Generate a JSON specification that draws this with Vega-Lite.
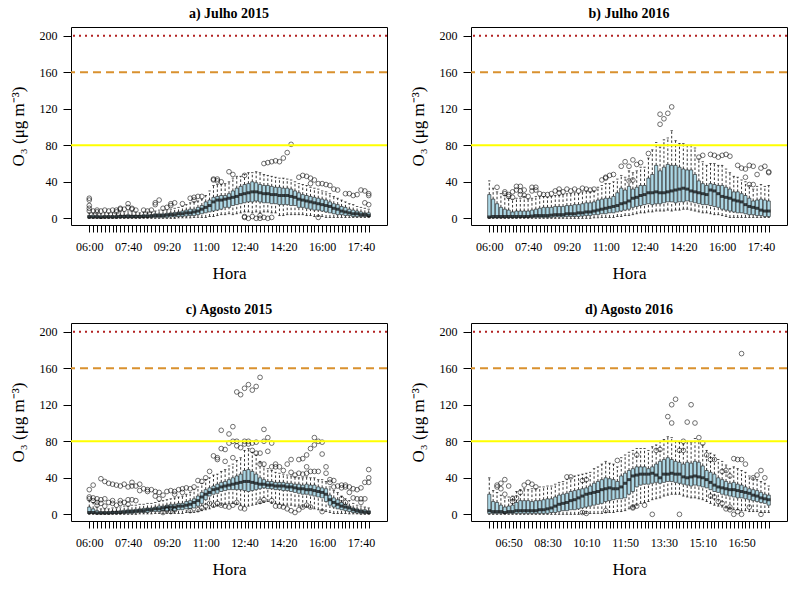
{
"$schema": "https://vega.github.io/schema/vega-lite/v6.json",
"autosize": "none",
"padding": {"left": 71, "top": 27, "right": 729, "bottom": 565},
"background": "white",
"datasets": {
"box": [
{"p":"a","i":0,"lo":0,"q1":0.5,"md":1.5,"q3":3,"hi":6},
{"p":"a","i":1,"lo":0,"q1":0.5,"md":1.5,"q3":3.5,"hi":6},
{"p":"a","i":2,"lo":0,"q1":0.5,"md":1.5,"q3":3,"hi":6},
{"p":"a","i":3,"lo":0,"q1":0.5,"md":1,"q3":3,"hi":5},
{"p":"a","i":4,"lo":0,"q1":0.5,"md":1.5,"q3":3,"hi":6},
{"p":"a","i":5,"lo":0,"q1":0.5,"md":1.5,"q3":3,"hi":6},
{"p":"a","i":6,"lo":0,"q1":0.5,"md":1.5,"q3":3,"hi":6},
{"p":"a","i":7,"lo":0,"q1":0.5,"md":1.5,"q3":3,"hi":6},
{"p":"a","i":8,"lo":0,"q1":0.5,"md":2,"q3":3.5,"hi":7},
{"p":"a","i":9,"lo":0,"q1":0.5,"md":2,"q3":3.5,"hi":7},
{"p":"a","i":10,"lo":0,"q1":0.5,"md":2,"q3":4,"hi":8},
{"p":"a","i":11,"lo":0,"q1":0.5,"md":2,"q3":3.5,"hi":7},
{"p":"a","i":12,"lo":0,"q1":0.5,"md":2,"q3":3.5,"hi":7},
{"p":"a","i":13,"lo":0,"q1":0.5,"md":2,"q3":3.5,"hi":6},
{"p":"a","i":14,"lo":0,"q1":1,"md":2,"q3":4,"hi":7},
{"p":"a","i":15,"lo":0,"q1":1,"md":2,"q3":4,"hi":7},
{"p":"a","i":16,"lo":0,"q1":1,"md":2.5,"q3":4,"hi":7},
{"p":"a","i":17,"lo":0,"q1":1,"md":3,"q3":5,"hi":8},
{"p":"a","i":18,"lo":0,"q1":1,"md":3,"q3":5,"hi":9},
{"p":"a","i":19,"lo":0,"q1":1,"md":3,"q3":5,"hi":9},
{"p":"a","i":20,"lo":0,"q1":1,"md":3.5,"q3":5.5,"hi":9},
{"p":"a","i":21,"lo":0,"q1":1.5,"md":4,"q3":6,"hi":10},
{"p":"a","i":22,"lo":0,"q1":1.5,"md":4,"q3":6.5,"hi":11},
{"p":"a","i":23,"lo":0.5,"q1":2,"md":5,"q3":7,"hi":12},
{"p":"a","i":24,"lo":0.5,"q1":2,"md":5,"q3":8,"hi":13},
{"p":"a","i":25,"lo":0.5,"q1":2.5,"md":6,"q3":9,"hi":15},
{"p":"a","i":26,"lo":0.5,"q1":3,"md":6,"q3":10,"hi":17},
{"p":"a","i":27,"lo":1,"q1":3,"md":7,"q3":10,"hi":18},
{"p":"a","i":28,"lo":1,"q1":4,"md":8,"q3":12,"hi":19},
{"p":"a","i":29,"lo":1,"q1":5,"md":10,"q3":14,"hi":21},
{"p":"a","i":30,"lo":1,"q1":6,"md":12,"q3":18,"hi":25},
{"p":"a","i":31,"lo":2,"q1":7,"md":14,"q3":20,"hi":30},
{"p":"a","i":32,"lo":2,"q1":8,"md":18,"q3":23,"hi":36},
{"p":"a","i":33,"lo":3,"q1":9,"md":20,"q3":24,"hi":37},
{"p":"a","i":34,"lo":4,"q1":10,"md":20,"q3":25,"hi":37},
{"p":"a","i":35,"lo":4,"q1":12,"md":21,"q3":25,"hi":38},
{"p":"a","i":36,"lo":5,"q1":12,"md":22,"q3":27,"hi":40},
{"p":"a","i":37,"lo":4,"q1":14,"md":23,"q3":30,"hi":44},
{"p":"a","i":38,"lo":5,"q1":15,"md":24,"q3":33,"hi":46},
{"p":"a","i":39,"lo":6,"q1":16,"md":26,"q3":35,"hi":46},
{"p":"a","i":40,"lo":7,"q1":17,"md":27,"q3":37,"hi":48},
{"p":"a","i":41,"lo":7,"q1":18,"md":28,"q3":38,"hi":50},
{"p":"a","i":42,"lo":6,"q1":18,"md":29,"q3":40,"hi":50},
{"p":"a","i":43,"lo":7,"q1":19,"md":29,"q3":39,"hi":51},
{"p":"a","i":44,"lo":6,"q1":18,"md":28,"q3":37,"hi":50},
{"p":"a","i":45,"lo":7,"q1":17,"md":27,"q3":36,"hi":48},
{"p":"a","i":46,"lo":7,"q1":17,"md":27,"q3":36,"hi":47},
{"p":"a","i":47,"lo":6,"q1":16,"md":26,"q3":35,"hi":46},
{"p":"a","i":48,"lo":6,"q1":16,"md":26,"q3":34,"hi":45},
{"p":"a","i":49,"lo":3,"q1":15,"md":25,"q3":34,"hi":44},
{"p":"a","i":50,"lo":3,"q1":15,"md":25,"q3":33,"hi":44},
{"p":"a","i":51,"lo":4,"q1":15,"md":25,"q3":33,"hi":43},
{"p":"a","i":52,"lo":4,"q1":14,"md":24,"q3":32,"hi":42},
{"p":"a","i":53,"lo":4,"q1":14,"md":23,"q3":30,"hi":40},
{"p":"a","i":54,"lo":4,"q1":12,"md":21,"q3":28,"hi":38},
{"p":"a","i":55,"lo":4,"q1":12,"md":20,"q3":26,"hi":37},
{"p":"a","i":56,"lo":3,"q1":11,"md":19,"q3":25,"hi":36},
{"p":"a","i":57,"lo":3,"q1":10,"md":18,"q3":24,"hi":34},
{"p":"a","i":58,"lo":2,"q1":9,"md":17,"q3":23,"hi":33},
{"p":"a","i":59,"lo":2,"q1":9,"md":16,"q3":22,"hi":32},
{"p":"a","i":60,"lo":2,"q1":8,"md":15,"q3":21,"hi":30},
{"p":"a","i":61,"lo":1,"q1":7,"md":14,"q3":20,"hi":29},
{"p":"a","i":62,"lo":1,"q1":6,"md":13,"q3":18,"hi":27},
{"p":"a","i":63,"lo":1,"q1":5,"md":11,"q3":16,"hi":24},
{"p":"a","i":64,"lo":1,"q1":4,"md":10,"q3":15,"hi":22},
{"p":"a","i":65,"lo":1,"q1":4,"md":8,"q3":13,"hi":20},
{"p":"a","i":66,"lo":1,"q1":3,"md":7,"q3":12,"hi":18},
{"p":"a","i":67,"lo":1,"q1":3,"md":6,"q3":10,"hi":16},
{"p":"a","i":68,"lo":1,"q1":2,"md":5,"q3":9,"hi":15},
{"p":"a","i":69,"lo":1,"q1":2,"md":5,"q3":8,"hi":13},
{"p":"a","i":70,"lo":1,"q1":2,"md":4,"q3":7,"hi":12},
{"p":"a","i":71,"lo":1,"q1":2,"md":4,"q3":6,"hi":11},
{"p":"a","i":72,"lo":1,"q1":2,"md":3,"q3":6,"hi":10},
{"p":"b","i":0,"lo":0,"q1":0.5,"md":1.5,"q3":26,"hi":41},
{"p":"b","i":1,"lo":0,"q1":0.5,"md":2,"q3":21,"hi":33},
{"p":"b","i":2,"lo":0,"q1":0.5,"md":2,"q3":16,"hi":29},
{"p":"b","i":3,"lo":0,"q1":0.5,"md":2,"q3":12,"hi":27},
{"p":"b","i":4,"lo":0,"q1":0.5,"md":2,"q3":10,"hi":25},
{"p":"b","i":5,"lo":0,"q1":0.5,"md":2,"q3":9,"hi":22},
{"p":"b","i":6,"lo":0,"q1":0.5,"md":2,"q3":7,"hi":21},
{"p":"b","i":7,"lo":0,"q1":0.5,"md":2,"q3":8,"hi":22},
{"p":"b","i":8,"lo":0,"q1":1,"md":2,"q3":8,"hi":22},
{"p":"b","i":9,"lo":0,"q1":1,"md":2,"q3":8,"hi":24},
{"p":"b","i":10,"lo":0,"q1":1,"md":2,"q3":8,"hi":21},
{"p":"b","i":11,"lo":0,"q1":1,"md":2.5,"q3":9,"hi":22},
{"p":"b","i":12,"lo":0,"q1":1,"md":3,"q3":10,"hi":24},
{"p":"b","i":13,"lo":0,"q1":1,"md":3,"q3":11,"hi":24},
{"p":"b","i":14,"lo":0,"q1":1,"md":3,"q3":12,"hi":24},
{"p":"b","i":15,"lo":0,"q1":1,"md":3,"q3":12,"hi":23},
{"p":"b","i":16,"lo":0,"q1":1,"md":3.5,"q3":12,"hi":24},
{"p":"b","i":17,"lo":0,"q1":1.5,"md":4,"q3":13,"hi":25},
{"p":"b","i":18,"lo":0,"q1":1.5,"md":4,"q3":13,"hi":25},
{"p":"b","i":19,"lo":0,"q1":1.5,"md":4,"q3":13,"hi":26},
{"p":"b","i":20,"lo":0,"q1":2,"md":5,"q3":14,"hi":27},
{"p":"b","i":21,"lo":0,"q1":2,"md":5,"q3":14,"hi":27},
{"p":"b","i":22,"lo":0,"q1":2,"md":5,"q3":15,"hi":28},
{"p":"b","i":23,"lo":0,"q1":2,"md":6,"q3":15,"hi":27},
{"p":"b","i":24,"lo":0,"q1":2.5,"md":6,"q3":16,"hi":29},
{"p":"b","i":25,"lo":0,"q1":3,"md":7,"q3":17,"hi":30},
{"p":"b","i":26,"lo":0,"q1":3,"md":7,"q3":17,"hi":29},
{"p":"b","i":27,"lo":0.5,"q1":4,"md":8,"q3":18,"hi":30},
{"p":"b","i":28,"lo":0.5,"q1":4,"md":9,"q3":20,"hi":34},
{"p":"b","i":29,"lo":1,"q1":5,"md":10,"q3":21,"hi":36},
{"p":"b","i":30,"lo":1,"q1":5,"md":11,"q3":22,"hi":38},
{"p":"b","i":31,"lo":1,"q1":6,"md":12,"q3":22,"hi":38},
{"p":"b","i":32,"lo":1,"q1":6,"md":13,"q3":24,"hi":40},
{"p":"b","i":33,"lo":2,"q1":7,"md":14,"q3":28,"hi":43},
{"p":"b","i":34,"lo":2,"q1":8,"md":16,"q3":33,"hi":47},
{"p":"b","i":35,"lo":3,"q1":9,"md":17,"q3":31,"hi":45},
{"p":"b","i":36,"lo":3,"q1":10,"md":19,"q3":35,"hi":52},
{"p":"b","i":37,"lo":4,"q1":12,"md":22,"q3":32,"hi":50},
{"p":"b","i":38,"lo":5,"q1":13,"md":23,"q3":34,"hi":52},
{"p":"b","i":39,"lo":6,"q1":14,"md":25,"q3":36,"hi":56},
{"p":"b","i":40,"lo":6,"q1":15,"md":26,"q3":36,"hi":56},
{"p":"b","i":41,"lo":7,"q1":16,"md":28,"q3":44,"hi":66},
{"p":"b","i":42,"lo":7,"q1":15,"md":28,"q3":48,"hi":75},
{"p":"b","i":43,"lo":8,"q1":16,"md":29,"q3":58,"hi":83},
{"p":"b","i":44,"lo":8,"q1":16,"md":28,"q3":52,"hi":78},
{"p":"b","i":45,"lo":8,"q1":17,"md":28,"q3":56,"hi":86},
{"p":"b","i":46,"lo":9,"q1":18,"md":29,"q3":59,"hi":88},
{"p":"b","i":47,"lo":8,"q1":18,"md":30,"q3":58,"hi":96},
{"p":"b","i":48,"lo":9,"q1":17,"md":31,"q3":58,"hi":85},
{"p":"b","i":49,"lo":9,"q1":18,"md":32,"q3":56,"hi":82},
{"p":"b","i":50,"lo":10,"q1":18,"md":33,"q3":54,"hi":82},
{"p":"b","i":51,"lo":10,"q1":19,"md":32,"q3":53,"hi":80},
{"p":"b","i":52,"lo":9,"q1":18,"md":30,"q3":53,"hi":80},
{"p":"b","i":53,"lo":8,"q1":17,"md":29,"q3":48,"hi":77},
{"p":"b","i":54,"lo":7,"q1":16,"md":28,"q3":41,"hi":65},
{"p":"b","i":55,"lo":6,"q1":15,"md":27,"q3":38,"hi":62},
{"p":"b","i":56,"lo":6,"q1":15,"md":26,"q3":36,"hi":58},
{"p":"b","i":57,"lo":5,"q1":14,"md":31,"q3":38,"hi":60},
{"p":"b","i":58,"lo":4,"q1":13,"md":30,"q3":37,"hi":60},
{"p":"b","i":59,"lo":4,"q1":12,"md":27,"q3":36,"hi":58},
{"p":"b","i":60,"lo":3,"q1":10,"md":24,"q3":36,"hi":58},
{"p":"b","i":61,"lo":2,"q1":9,"md":23,"q3":34,"hi":54},
{"p":"b","i":62,"lo":1,"q1":8,"md":22,"q3":32,"hi":50},
{"p":"b","i":63,"lo":1,"q1":7,"md":20,"q3":29,"hi":46},
{"p":"b","i":64,"lo":1,"q1":6,"md":19,"q3":29,"hi":45},
{"p":"b","i":65,"lo":1,"q1":6,"md":18,"q3":27,"hi":42},
{"p":"b","i":66,"lo":1,"q1":5,"md":15,"q3":25,"hi":40},
{"p":"b","i":67,"lo":1,"q1":4,"md":13,"q3":22,"hi":36},
{"p":"b","i":68,"lo":1,"q1":4,"md":12,"q3":19,"hi":32},
{"p":"b","i":69,"lo":1,"q1":3,"md":11,"q3":20,"hi":35},
{"p":"b","i":70,"lo":1,"q1":3,"md":9,"q3":21,"hi":37},
{"p":"b","i":71,"lo":1,"q1":2,"md":8,"q3":20,"hi":35},
{"p":"b","i":72,"lo":1,"q1":2,"md":8,"q3":19,"hi":36},
{"p":"c","i":0,"lo":0,"q1":1,"md":2,"q3":8,"hi":15},
{"p":"c","i":1,"lo":0,"q1":1,"md":2,"q3":6,"hi":13},
{"p":"c","i":2,"lo":0,"q1":0.5,"md":1.5,"q3":4,"hi":8},
{"p":"c","i":3,"lo":0,"q1":0.5,"md":1.5,"q3":3,"hi":6},
{"p":"c","i":4,"lo":0,"q1":0.5,"md":1.5,"q3":3,"hi":6},
{"p":"c","i":5,"lo":0,"q1":0.5,"md":1.5,"q3":3,"hi":6},
{"p":"c","i":6,"lo":0,"q1":0.5,"md":2,"q3":3.5,"hi":7},
{"p":"c","i":7,"lo":0,"q1":0.5,"md":2,"q3":3.5,"hi":7},
{"p":"c","i":8,"lo":0,"q1":1,"md":2,"q3":4,"hi":8},
{"p":"c","i":9,"lo":0,"q1":1,"md":2.5,"q3":4.5,"hi":9},
{"p":"c","i":10,"lo":0,"q1":1,"md":3,"q3":5,"hi":9},
{"p":"c","i":11,"lo":0,"q1":1,"md":3,"q3":5,"hi":10},
{"p":"c","i":12,"lo":0,"q1":1.5,"md":3.5,"q3":5.5,"hi":10},
{"p":"c","i":13,"lo":0.5,"q1":2,"md":4,"q3":6,"hi":11},
{"p":"c","i":14,"lo":0.5,"q1":2,"md":4,"q3":6.5,"hi":11},
{"p":"c","i":15,"lo":0.5,"q1":2,"md":5,"q3":7,"hi":12},
{"p":"c","i":16,"lo":0.5,"q1":3,"md":5,"q3":7,"hi":12},
{"p":"c","i":17,"lo":1,"q1":3,"md":6,"q3":8,"hi":13},
{"p":"c","i":18,"lo":1,"q1":3,"md":6,"q3":9,"hi":14},
{"p":"c","i":19,"lo":1,"q1":4,"md":7,"q3":9,"hi":15},
{"p":"c","i":20,"lo":1,"q1":4,"md":8,"q3":10,"hi":16},
{"p":"c","i":21,"lo":1,"q1":4,"md":8,"q3":11,"hi":17},
{"p":"c","i":22,"lo":1,"q1":4,"md":8,"q3":11,"hi":18},
{"p":"c","i":23,"lo":1,"q1":5,"md":9,"q3":12,"hi":19},
{"p":"c","i":24,"lo":1,"q1":5,"md":9,"q3":12,"hi":20},
{"p":"c","i":25,"lo":2,"q1":6,"md":10,"q3":14,"hi":22},
{"p":"c","i":26,"lo":2,"q1":6,"md":11,"q3":15,"hi":24},
{"p":"c","i":27,"lo":2,"q1":7,"md":13,"q3":17,"hi":27},
{"p":"c","i":28,"lo":3,"q1":9,"md":15,"q3":20,"hi":30},
{"p":"c","i":29,"lo":4,"q1":12,"md":19,"q3":24,"hi":34},
{"p":"c","i":30,"lo":5,"q1":16,"md":22,"q3":27,"hi":38},
{"p":"c","i":31,"lo":6,"q1":20,"md":24,"q3":29,"hi":40},
{"p":"c","i":32,"lo":8,"q1":22,"md":27,"q3":31,"hi":43},
{"p":"c","i":33,"lo":9,"q1":23,"md":28,"q3":33,"hi":44},
{"p":"c","i":34,"lo":10,"q1":25,"md":30,"q3":35,"hi":47},
{"p":"c","i":35,"lo":11,"q1":26,"md":31,"q3":36,"hi":49},
{"p":"c","i":36,"lo":12,"q1":27,"md":32,"q3":38,"hi":53},
{"p":"c","i":37,"lo":12,"q1":27,"md":33,"q3":40,"hi":55},
{"p":"c","i":38,"lo":11,"q1":27,"md":34,"q3":42,"hi":59},
{"p":"c","i":39,"lo":10,"q1":27,"md":35,"q3":44,"hi":62},
{"p":"c","i":40,"lo":9,"q1":26,"md":36,"q3":48,"hi":70},
{"p":"c","i":41,"lo":9,"q1":25,"md":36,"q3":49,"hi":72},
{"p":"c","i":42,"lo":10,"q1":26,"md":35,"q3":47,"hi":68},
{"p":"c","i":43,"lo":11,"q1":27,"md":34,"q3":44,"hi":65},
{"p":"c","i":44,"lo":12,"q1":28,"md":33,"q3":40,"hi":58},
{"p":"c","i":45,"lo":13,"q1":29,"md":33,"q3":38,"hi":52},
{"p":"c","i":46,"lo":14,"q1":28,"md":32,"q3":36,"hi":50},
{"p":"c","i":47,"lo":12,"q1":28,"md":32,"q3":36,"hi":48},
{"p":"c","i":48,"lo":12,"q1":27,"md":31,"q3":35,"hi":46},
{"p":"c","i":49,"lo":11,"q1":27,"md":31,"q3":35,"hi":45},
{"p":"c","i":50,"lo":10,"q1":26,"md":31,"q3":35,"hi":44},
{"p":"c","i":51,"lo":10,"q1":26,"md":30,"q3":34,"hi":43},
{"p":"c","i":52,"lo":10,"q1":25,"md":30,"q3":34,"hi":42},
{"p":"c","i":53,"lo":9,"q1":24,"md":29,"q3":33,"hi":41},
{"p":"c","i":54,"lo":9,"q1":23,"md":28,"q3":33,"hi":40},
{"p":"c","i":55,"lo":8,"q1":22,"md":28,"q3":32,"hi":40},
{"p":"c","i":56,"lo":8,"q1":22,"md":27,"q3":33,"hi":41},
{"p":"c","i":57,"lo":7,"q1":21,"md":27,"q3":32,"hi":40},
{"p":"c","i":58,"lo":6,"q1":20,"md":26,"q3":32,"hi":40},
{"p":"c","i":59,"lo":5,"q1":19,"md":25,"q3":30,"hi":38},
{"p":"c","i":60,"lo":4,"q1":18,"md":24,"q3":29,"hi":38},
{"p":"c","i":61,"lo":3,"q1":14,"md":22,"q3":28,"hi":36},
{"p":"c","i":62,"lo":2,"q1":10,"md":16,"q3":21,"hi":30},
{"p":"c","i":63,"lo":1,"q1":8,"md":13,"q3":18,"hi":26},
{"p":"c","i":64,"lo":1,"q1":6,"md":11,"q3":16,"hi":24},
{"p":"c","i":65,"lo":1,"q1":5,"md":9,"q3":13,"hi":20},
{"p":"c","i":66,"lo":1,"q1":4,"md":8,"q3":11,"hi":17},
{"p":"c","i":67,"lo":0.5,"q1":3,"md":7,"q3":9,"hi":15},
{"p":"c","i":68,"lo":0.5,"q1":2,"md":5,"q3":7,"hi":12},
{"p":"c","i":69,"lo":0.5,"q1":1.5,"md":4,"q3":6,"hi":10},
{"p":"c","i":70,"lo":0,"q1":1,"md":3,"q3":5,"hi":9},
{"p":"c","i":71,"lo":0,"q1":1,"md":2.5,"q3":5,"hi":8},
{"p":"c","i":72,"lo":0,"q1":1,"md":2,"q3":4,"hi":7},
{"p":"d","i":0,"lo":0,"q1":1,"md":4,"q3":22,"hi":40},
{"p":"d","i":1,"lo":0,"q1":1,"md":3,"q3":14,"hi":26},
{"p":"d","i":2,"lo":0,"q1":1,"md":3,"q3":13,"hi":24},
{"p":"d","i":3,"lo":0,"q1":1,"md":3,"q3":10,"hi":21},
{"p":"d","i":4,"lo":0,"q1":1,"md":2,"q3":8,"hi":18},
{"p":"d","i":5,"lo":0,"q1":1,"md":3,"q3":9,"hi":19},
{"p":"d","i":6,"lo":0,"q1":1,"md":3,"q3":10,"hi":20},
{"p":"d","i":7,"lo":0,"q1":1,"md":4,"q3":13,"hi":25},
{"p":"d","i":8,"lo":0,"q1":1,"md":4,"q3":15,"hi":27},
{"p":"d","i":9,"lo":0,"q1":1,"md":4,"q3":15,"hi":28},
{"p":"d","i":10,"lo":0,"q1":1,"md":4,"q3":15,"hi":27},
{"p":"d","i":11,"lo":0,"q1":1,"md":4,"q3":14,"hi":28},
{"p":"d","i":12,"lo":0,"q1":1,"md":4,"q3":15,"hi":28},
{"p":"d","i":13,"lo":0,"q1":1,"md":5,"q3":15,"hi":30},
{"p":"d","i":14,"lo":0,"q1":1,"md":5,"q3":16,"hi":30},
{"p":"d","i":15,"lo":0,"q1":1,"md":6,"q3":17,"hi":31},
{"p":"d","i":16,"lo":0,"q1":2,"md":7,"q3":17,"hi":31},
{"p":"d","i":17,"lo":0,"q1":2,"md":9,"q3":19,"hi":33},
{"p":"d","i":18,"lo":0,"q1":3,"md":11,"q3":21,"hi":35},
{"p":"d","i":19,"lo":0,"q1":4,"md":12,"q3":22,"hi":36},
{"p":"d","i":20,"lo":0,"q1":4,"md":13,"q3":23,"hi":38},
{"p":"d","i":21,"lo":0,"q1":5,"md":15,"q3":25,"hi":40},
{"p":"d","i":22,"lo":0,"q1":5,"md":16,"q3":26,"hi":42},
{"p":"d","i":23,"lo":0,"q1":6,"md":18,"q3":27,"hi":43},
{"p":"d","i":24,"lo":1,"q1":7,"md":20,"q3":28,"hi":44},
{"p":"d","i":25,"lo":1,"q1":8,"md":22,"q3":29,"hi":45},
{"p":"d","i":26,"lo":1,"q1":9,"md":23,"q3":31,"hi":46},
{"p":"d","i":27,"lo":1,"q1":10,"md":24,"q3":34,"hi":50},
{"p":"d","i":28,"lo":1,"q1":11,"md":25,"q3":36,"hi":52},
{"p":"d","i":29,"lo":1,"q1":12,"md":27,"q3":38,"hi":55},
{"p":"d","i":30,"lo":2,"q1":14,"md":28,"q3":40,"hi":58},
{"p":"d","i":31,"lo":2,"q1":15,"md":29,"q3":39,"hi":56},
{"p":"d","i":32,"lo":2,"q1":16,"md":28,"q3":38,"hi":55},
{"p":"d","i":33,"lo":3,"q1":17,"md":28,"q3":36,"hi":52},
{"p":"d","i":34,"lo":3,"q1":17,"md":30,"q3":42,"hi":62},
{"p":"d","i":35,"lo":4,"q1":18,"md":34,"q3":45,"hi":65},
{"p":"d","i":36,"lo":6,"q1":22,"md":38,"q3":48,"hi":68},
{"p":"d","i":37,"lo":8,"q1":25,"md":42,"q3":50,"hi":70},
{"p":"d","i":38,"lo":10,"q1":30,"md":43,"q3":52,"hi":72},
{"p":"d","i":39,"lo":12,"q1":32,"md":44,"q3":52,"hi":72},
{"p":"d","i":40,"lo":13,"q1":33,"md":44,"q3":52,"hi":72},
{"p":"d","i":41,"lo":14,"q1":33,"md":44,"q3":50,"hi":70},
{"p":"d","i":42,"lo":16,"q1":34,"md":45,"q3":52,"hi":74},
{"p":"d","i":43,"lo":17,"q1":35,"md":43,"q3":55,"hi":76},
{"p":"d","i":44,"lo":18,"q1":34,"md":40,"q3":58,"hi":80},
{"p":"d","i":45,"lo":20,"q1":35,"md":44,"q3":60,"hi":82},
{"p":"d","i":46,"lo":21,"q1":36,"md":44,"q3":62,"hi":85},
{"p":"d","i":47,"lo":22,"q1":36,"md":45,"q3":60,"hi":84},
{"p":"d","i":48,"lo":22,"q1":35,"md":44,"q3":58,"hi":80},
{"p":"d","i":49,"lo":22,"q1":34,"md":44,"q3":57,"hi":79},
{"p":"d","i":50,"lo":20,"q1":33,"md":41,"q3":55,"hi":77},
{"p":"d","i":51,"lo":19,"q1":32,"md":40,"q3":57,"hi":80},
{"p":"d","i":52,"lo":18,"q1":31,"md":41,"q3":56,"hi":79},
{"p":"d","i":53,"lo":18,"q1":32,"md":42,"q3":58,"hi":83},
{"p":"d","i":54,"lo":17,"q1":31,"md":41,"q3":57,"hi":80},
{"p":"d","i":55,"lo":16,"q1":30,"md":40,"q3":53,"hi":76},
{"p":"d","i":56,"lo":14,"q1":29,"md":38,"q3":48,"hi":70},
{"p":"d","i":57,"lo":12,"q1":27,"md":35,"q3":46,"hi":67},
{"p":"d","i":58,"lo":10,"q1":25,"md":32,"q3":44,"hi":65},
{"p":"d","i":59,"lo":9,"q1":24,"md":30,"q3":40,"hi":60},
{"p":"d","i":60,"lo":8,"q1":22,"md":29,"q3":38,"hi":58},
{"p":"d","i":61,"lo":7,"q1":21,"md":28,"q3":36,"hi":54},
{"p":"d","i":62,"lo":6,"q1":20,"md":27,"q3":34,"hi":50},
{"p":"d","i":63,"lo":5,"q1":19,"md":27,"q3":35,"hi":52},
{"p":"d","i":64,"lo":5,"q1":18,"md":26,"q3":33,"hi":50},
{"p":"d","i":65,"lo":4,"q1":18,"md":25,"q3":32,"hi":48},
{"p":"d","i":66,"lo":4,"q1":17,"md":24,"q3":30,"hi":46},
{"p":"d","i":67,"lo":3,"q1":16,"md":23,"q3":28,"hi":42},
{"p":"d","i":68,"lo":3,"q1":15,"md":21,"q3":27,"hi":40},
{"p":"d","i":69,"lo":3,"q1":14,"md":20,"q3":26,"hi":38},
{"p":"d","i":70,"lo":2,"q1":13,"md":18,"q3":24,"hi":36},
{"p":"d","i":71,"lo":2,"q1":12,"md":17,"q3":22,"hi":34},
{"p":"d","i":72,"lo":2,"q1":10,"md":16,"q3":21,"hi":31}
],
"out": [
{"p":"a","i":0,"v":8},{"p":"a","i":0,"v":11},{"p":"a","i":0,"v":14},{"p":"a","i":0,"v":20},{"p":"a","i":0,"v":22},
{"p":"a","i":1,"v":8},{"p":"a","i":2,"v":7},{"p":"a","i":2,"v":9},{"p":"a","i":3,"v":8},{"p":"a","i":4,"v":9},
{"p":"a","i":5,"v":8},{"p":"a","i":6,"v":9},{"p":"a","i":7,"v":7},{"p":"a","i":7,"v":9},{"p":"a","i":8,"v":10},
{"p":"a","i":8,"v":11},{"p":"a","i":9,"v":10},{"p":"a","i":10,"v":12},{"p":"a","i":10,"v":16},{"p":"a","i":11,"v":10},
{"p":"a","i":11,"v":11},{"p":"a","i":12,"v":9},{"p":"a","i":14,"v":9},{"p":"a","i":15,"v":8},{"p":"a","i":16,"v":9},
{"p":"a","i":17,"v":15},{"p":"a","i":17,"v":17},{"p":"a","i":18,"v":20},{"p":"a","i":19,"v":11},{"p":"a","i":20,"v":12},
{"p":"a","i":21,"v":14},{"p":"a","i":21,"v":16},{"p":"a","i":22,"v":17},{"p":"a","i":24,"v":16},{"p":"a","i":26,"v":22},
{"p":"a","i":27,"v":20},{"p":"a","i":27,"v":23},{"p":"a","i":28,"v":24},{"p":"a","i":29,"v":24},{"p":"a","i":32,"v":43},
{"p":"a","i":32,"v":42},{"p":"a","i":33,"v":43},{"p":"a","i":33,"v":41},{"p":"a","i":34,"v":40},{"p":"a","i":36,"v":51},
{"p":"a","i":37,"v":48},{"p":"a","i":40,"v":47},{"p":"a","i":40,"v":2},{"p":"a","i":40,"v":1},{"p":"a","i":41,"v":0},
{"p":"a","i":42,"v":2},{"p":"a","i":43,"v":0},{"p":"a","i":44,"v":0},{"p":"a","i":44,"v":3},{"p":"a","i":45,"v":60},
{"p":"a","i":45,"v":1},{"p":"a","i":46,"v":61},{"p":"a","i":46,"v":0},{"p":"a","i":47,"v":62},{"p":"a","i":47,"v":1},
{"p":"a","i":48,"v":63},{"p":"a","i":49,"v":62},{"p":"a","i":50,"v":66},{"p":"a","i":51,"v":72},{"p":"a","i":52,"v":81},
{"p":"a","i":54,"v":45},{"p":"a","i":55,"v":47},{"p":"a","i":56,"v":46},{"p":"a","i":57,"v":44},{"p":"a","i":57,"v":38},
{"p":"a","i":58,"v":42},{"p":"a","i":59,"v":38},{"p":"a","i":59,"v":1},{"p":"a","i":60,"v":38},{"p":"a","i":61,"v":37},
{"p":"a","i":62,"v":36},{"p":"a","i":63,"v":32},{"p":"a","i":64,"v":31},{"p":"a","i":66,"v":27},{"p":"a","i":67,"v":27},
{"p":"a","i":68,"v":25},{"p":"a","i":69,"v":26},{"p":"a","i":70,"v":31},{"p":"a","i":71,"v":30},{"p":"a","i":71,"v":17},
{"p":"a","i":72,"v":27},{"p":"a","i":72,"v":25},{"p":"a","i":72,"v":15},
{"p":"b","i":2,"v":34},{"p":"b","i":4,"v":29},{"p":"b","i":4,"v":27},{"p":"b","i":5,"v":26},{"p":"b","i":5,"v":24},
{"p":"b","i":6,"v":29},{"p":"b","i":6,"v":23},{"p":"b","i":7,"v":35},{"p":"b","i":7,"v":31},{"p":"b","i":8,"v":35},
{"p":"b","i":8,"v":30},{"p":"b","i":8,"v":26},{"p":"b","i":9,"v":31},{"p":"b","i":9,"v":25},{"p":"b","i":10,"v":24},
{"p":"b","i":11,"v":34},{"p":"b","i":11,"v":30},{"p":"b","i":12,"v":34},{"p":"b","i":12,"v":31},{"p":"b","i":13,"v":27},
{"p":"b","i":14,"v":26},{"p":"b","i":15,"v":26},{"p":"b","i":16,"v":27},{"p":"b","i":17,"v":30},{"p":"b","i":18,"v":32},
{"p":"b","i":18,"v":28},{"p":"b","i":19,"v":29},{"p":"b","i":20,"v":32},{"p":"b","i":21,"v":30},{"p":"b","i":22,"v":32},
{"p":"b","i":23,"v":30},{"p":"b","i":24,"v":33},{"p":"b","i":25,"v":32},{"p":"b","i":26,"v":31},{"p":"b","i":27,"v":32},
{"p":"b","i":29,"v":42},{"p":"b","i":30,"v":45},{"p":"b","i":30,"v":44},{"p":"b","i":31,"v":47},{"p":"b","i":32,"v":48},
{"p":"b","i":34,"v":57},{"p":"b","i":35,"v":62},{"p":"b","i":36,"v":57},{"p":"b","i":36,"v":41},{"p":"b","i":37,"v":64},
{"p":"b","i":37,"v":42},{"p":"b","i":38,"v":59},{"p":"b","i":39,"v":61},{"p":"b","i":41,"v":71},{"p":"b","i":44,"v":103},
{"p":"b","i":44,"v":114},{"p":"b","i":45,"v":109},{"p":"b","i":46,"v":115},{"p":"b","i":47,"v":122},{"p":"b","i":54,"v":67},
{"p":"b","i":55,"v":69},{"p":"b","i":57,"v":70},{"p":"b","i":58,"v":69},{"p":"b","i":59,"v":67},{"p":"b","i":60,"v":69},
{"p":"b","i":61,"v":70},{"p":"b","i":62,"v":68},{"p":"b","i":64,"v":58},{"p":"b","i":65,"v":55},{"p":"b","i":66,"v":54},
{"p":"b","i":66,"v":45},{"p":"b","i":67,"v":58},{"p":"b","i":67,"v":37},{"p":"b","i":68,"v":57},{"p":"b","i":68,"v":37},
{"p":"b","i":69,"v":48},{"p":"b","i":70,"v":55},{"p":"b","i":71,"v":57},{"p":"b","i":72,"v":51},{"p":"b","i":72,"v":50},
{"p":"c","i":0,"v":19},{"p":"c","i":0,"v":27},{"p":"c","i":0,"v":17},{"p":"c","i":1,"v":32},{"p":"c","i":1,"v":18},
{"p":"c","i":1,"v":15},{"p":"c","i":2,"v":17},{"p":"c","i":2,"v":13},{"p":"c","i":2,"v":10},{"p":"c","i":3,"v":39},
{"p":"c","i":3,"v":16},{"p":"c","i":3,"v":12},{"p":"c","i":4,"v":36},{"p":"c","i":4,"v":17},{"p":"c","i":4,"v":9},
{"p":"c","i":5,"v":34},{"p":"c","i":5,"v":13},{"p":"c","i":6,"v":33},{"p":"c","i":6,"v":12},{"p":"c","i":6,"v":15},
{"p":"c","i":7,"v":32},{"p":"c","i":7,"v":10},{"p":"c","i":8,"v":31},{"p":"c","i":8,"v":15},{"p":"c","i":8,"v":12},
{"p":"c","i":9,"v":33},{"p":"c","i":9,"v":13},{"p":"c","i":10,"v":30},{"p":"c","i":10,"v":16},{"p":"c","i":10,"v":11},
{"p":"c","i":11,"v":35},{"p":"c","i":11,"v":31},{"p":"c","i":11,"v":16},{"p":"c","i":12,"v":31},{"p":"c","i":12,"v":15},
{"p":"c","i":13,"v":33},{"p":"c","i":13,"v":26},{"p":"c","i":14,"v":28},{"p":"c","i":15,"v":27},{"p":"c","i":15,"v":25},
{"p":"c","i":16,"v":27},{"p":"c","i":17,"v":25},{"p":"c","i":17,"v":20},{"p":"c","i":18,"v":24},{"p":"c","i":18,"v":17},
{"p":"c","i":19,"v":21},{"p":"c","i":19,"v":2},{"p":"c","i":20,"v":25},{"p":"c","i":20,"v":5},{"p":"c","i":21,"v":26},
{"p":"c","i":21,"v":3},{"p":"c","i":22,"v":25},{"p":"c","i":22,"v":5},{"p":"c","i":22,"v":22},{"p":"c","i":23,"v":27},
{"p":"c","i":24,"v":28},{"p":"c","i":24,"v":24},{"p":"c","i":25,"v":29},{"p":"c","i":26,"v":28},{"p":"c","i":26,"v":4},
{"p":"c","i":27,"v":30},{"p":"c","i":28,"v":37},{"p":"c","i":28,"v":5},{"p":"c","i":29,"v":36},{"p":"c","i":29,"v":7},
{"p":"c","i":30,"v":40},{"p":"c","i":30,"v":9},{"p":"c","i":31,"v":47},{"p":"c","i":31,"v":12},{"p":"c","i":32,"v":64},
{"p":"c","i":32,"v":10},{"p":"c","i":33,"v":62},{"p":"c","i":33,"v":60},{"p":"c","i":33,"v":12},{"p":"c","i":34,"v":72},
{"p":"c","i":34,"v":92},{"p":"c","i":34,"v":10},{"p":"c","i":35,"v":71},{"p":"c","i":35,"v":58},{"p":"c","i":35,"v":9},
{"p":"c","i":36,"v":88},{"p":"c","i":36,"v":78},{"p":"c","i":36,"v":8},{"p":"c","i":37,"v":96},{"p":"c","i":37,"v":80},
{"p":"c","i":37,"v":62},{"p":"c","i":37,"v":10},{"p":"c","i":38,"v":134},{"p":"c","i":38,"v":80},{"p":"c","i":38,"v":75},
{"p":"c","i":38,"v":13},{"p":"c","i":39,"v":131},{"p":"c","i":39,"v":73},{"p":"c","i":39,"v":7},{"p":"c","i":40,"v":138},
{"p":"c","i":40,"v":80},{"p":"c","i":40,"v":77},{"p":"c","i":40,"v":6},{"p":"c","i":41,"v":142},{"p":"c","i":41,"v":80},
{"p":"c","i":41,"v":77},{"p":"c","i":42,"v":136},{"p":"c","i":42,"v":78},{"p":"c","i":42,"v":70},{"p":"c","i":43,"v":140},
{"p":"c","i":43,"v":79},{"p":"c","i":43,"v":67},{"p":"c","i":44,"v":150},{"p":"c","i":44,"v":67},{"p":"c","i":44,"v":55},
{"p":"c","i":44,"v":14},{"p":"c","i":45,"v":93},{"p":"c","i":45,"v":80},{"p":"c","i":45,"v":55},{"p":"c","i":45,"v":16},
{"p":"c","i":46,"v":84},{"p":"c","i":46,"v":69},{"p":"c","i":47,"v":78},{"p":"c","i":47,"v":52},{"p":"c","i":47,"v":15},
{"p":"c","i":48,"v":55},{"p":"c","i":48,"v":52},{"p":"c","i":48,"v":9},{"p":"c","i":49,"v":52},{"p":"c","i":49,"v":9},
{"p":"c","i":50,"v":48},{"p":"c","i":50,"v":8},{"p":"c","i":51,"v":55},{"p":"c","i":51,"v":6},{"p":"c","i":52,"v":60},
{"p":"c","i":52,"v":46},{"p":"c","i":52,"v":4},{"p":"c","i":53,"v":43},{"p":"c","i":53,"v":2},{"p":"c","i":54,"v":60},
{"p":"c","i":54,"v":45},{"p":"c","i":54,"v":5},{"p":"c","i":55,"v":61},{"p":"c","i":55,"v":44},{"p":"c","i":55,"v":8},
{"p":"c","i":56,"v":65},{"p":"c","i":56,"v":52},{"p":"c","i":56,"v":45},{"p":"c","i":56,"v":10},{"p":"c","i":57,"v":72},
{"p":"c","i":57,"v":47},{"p":"c","i":57,"v":8},{"p":"c","i":58,"v":84},{"p":"c","i":58,"v":76},{"p":"c","i":58,"v":47},
{"p":"c","i":59,"v":80},{"p":"c","i":59,"v":47},{"p":"c","i":60,"v":79},{"p":"c","i":60,"v":66},{"p":"c","i":60,"v":3},
{"p":"c","i":61,"v":52},{"p":"c","i":61,"v":45},{"p":"c","i":62,"v":38},{"p":"c","i":62,"v":35},{"p":"c","i":63,"v":37},
{"p":"c","i":63,"v":30},{"p":"c","i":64,"v":31},{"p":"c","i":65,"v":32},{"p":"c","i":65,"v":29},{"p":"c","i":65,"v":17},
{"p":"c","i":66,"v":32},{"p":"c","i":66,"v":30},{"p":"c","i":66,"v":13},{"p":"c","i":67,"v":30},{"p":"c","i":67,"v":24},
{"p":"c","i":68,"v":28},{"p":"c","i":68,"v":18},{"p":"c","i":69,"v":27},{"p":"c","i":69,"v":17},{"p":"c","i":70,"v":29},
{"p":"c","i":70,"v":17},{"p":"c","i":70,"v":13},{"p":"c","i":71,"v":35},{"p":"c","i":71,"v":17},{"p":"c","i":72,"v":49},
{"p":"c","i":72,"v":40},{"p":"c","i":72,"v":35},
{"p":"d","i":2,"v":32},{"p":"d","i":2,"v":30},{"p":"d","i":3,"v":34},{"p":"d","i":3,"v":28},{"p":"d","i":4,"v":38},
{"p":"d","i":4,"v":22},{"p":"d","i":5,"v":31},{"p":"d","i":6,"v":17},{"p":"d","i":6,"v":14},{"p":"d","i":7,"v":18},
{"p":"d","i":8,"v":24},{"p":"d","i":9,"v":32},{"p":"d","i":10,"v":35},{"p":"d","i":11,"v":33},{"p":"d","i":12,"v":30},
{"p":"d","i":20,"v":41},{"p":"d","i":21,"v":41},{"p":"d","i":24,"v":37},{"p":"d","i":24,"v":2},{"p":"d","i":25,"v":38},
{"p":"d","i":25,"v":1},{"p":"d","i":30,"v":4},{"p":"d","i":33,"v":59},{"p":"d","i":37,"v":8},{"p":"d","i":37,"v":7},
{"p":"d","i":38,"v":65},{"p":"d","i":38,"v":9},{"p":"d","i":40,"v":10},{"p":"d","i":42,"v":0},{"p":"d","i":43,"v":70},
{"p":"d","i":44,"v":71},{"p":"d","i":46,"v":107},{"p":"d","i":47,"v":100},{"p":"d","i":47,"v":120},{"p":"d","i":48,"v":126},
{"p":"d","i":49,"v":0},{"p":"d","i":49,"v":70},{"p":"d","i":50,"v":80},{"p":"d","i":50,"v":70},{"p":"d","i":51,"v":101},
{"p":"d","i":52,"v":120},{"p":"d","i":53,"v":100},{"p":"d","i":54,"v":84},{"p":"d","i":55,"v":78},{"p":"d","i":56,"v":65},
{"p":"d","i":57,"v":60},{"p":"d","i":57,"v":20},{"p":"d","i":58,"v":60},{"p":"d","i":58,"v":19},{"p":"d","i":59,"v":14},
{"p":"d","i":60,"v":12},{"p":"d","i":60,"v":47},{"p":"d","i":61,"v":48},{"p":"d","i":61,"v":6},{"p":"d","i":62,"v":42},
{"p":"d","i":62,"v":8},{"p":"d","i":62,"v":5},{"p":"d","i":63,"v":61},{"p":"d","i":63,"v":0},{"p":"d","i":64,"v":60},
{"p":"d","i":64,"v":3},{"p":"d","i":65,"v":60},{"p":"d","i":65,"v":0},{"p":"d","i":65,"v":176},{"p":"d","i":66,"v":55},
{"p":"d","i":67,"v":8},{"p":"d","i":68,"v":40},{"p":"d","i":69,"v":43},{"p":"d","i":70,"v":48},{"p":"d","i":70,"v":0},
{"p":"d","i":71,"v":40}
]
},
"columns": 2,
"spacing": {"row": 98, "column": 84},
"bounds": "flush",
"concat": [
{
"width": 316, "height": 198,
"title": {"text": "a) Julho 2015"},
"layer": [
{
"encoding": {"x": {"field": "i", "type": "quantitative", "scale": {"domain": [-3.42, 75.42], "nice": false, "zero": false}, "axis": {"title": "Hora", "tickCount": 200, "values": [0,1,2,3,4,5,6,7,8,9,10,11,12,13,14,15,16,17,18,19,20,21,22,23,24,25,26,27,28,29,30,31,32,33,34,35,36,37,38,39,40,41,42,43,44,45,46,47,48,49,50,51,52,53,54,55,56,57,58,59,60,61,62,63,64,65,66,67,68,69,70,71,72], "labelOverlap": false, "labelExpr": "datum.value % 10 === 0 ? pad(floor(datum.value/6)+6, 2, '0', 'left') + ':' + pad((datum.value%6)*10, 2, '0', 'left') : ''"}}},
"layer": [
{"data": {"name": "box"}, "transform": [{"filter": "datum.p === 'a'"}],
"layer": [
{"mark": {"type": "rule", "strokeDash": [2.5, 2], "strokeWidth": 0.8, "color": "black"}, "encoding": {"y": {"field": "lo", "type": "quantitative", "scale": {"domain": [-7.3, 209.5], "nice": false, "zero": false}, "axis": {"title": "O₃ (μg m⁻³)", "tickCount": 50, "values": [0,40,80,120,160,200], "labelOverlap": false}}, "y2": {"field": "q1"}}},
{"mark": {"type": "rule", "strokeDash": [2.5, 2], "strokeWidth": 0.8, "color": "black"}, "encoding": {"y": {"field": "q3", "type": "quantitative"}, "y2": {"field": "hi"}}},
{"mark": {"type": "tick", "orient": "horizontal", "size": 2.4, "thickness": 0.9, "color": "black"}, "encoding": {"y": {"field": "lo", "type": "quantitative"}}},
{"mark": {"type": "tick", "orient": "horizontal", "size": 2.4, "thickness": 0.9, "color": "black"}, "encoding": {"y": {"field": "hi", "type": "quantitative"}}},
{"mark": {"type": "bar", "orient": "vertical", "size": 3.2, "fill": "#ADD8E6", "stroke": "black", "strokeWidth": 0.55}, "encoding": {"y": {"field": "q1", "type": "quantitative"}, "y2": {"field": "q3"}}},
{"mark": {"type": "tick", "orient": "horizontal", "size": 3.6, "thickness": 3, "color": "black"}, "encoding": {"y": {"field": "md", "type": "quantitative"}}}
]},
{"data": {"name": "out"}, "transform": [{"filter": "datum.p === 'a'"}], "mark": {"type": "point", "shape": "circle", "filled": false, "size": 22, "stroke": "black", "strokeWidth": 0.8}, "encoding": {"y": {"field": "v", "type": "quantitative"}}}
]
},
{"data": {"values": [{}]}, "mark": {"type": "rule", "color": "#FFFF00", "strokeWidth": 2}, "encoding": {"y": {"datum": 80, "type": "quantitative"}}},
{"data": {"values": [{}]}, "mark": {"type": "rule", "color": "#D9912E", "strokeWidth": 2, "strokeDash": [8, 5]}, "encoding": {"y": {"datum": 160, "type": "quantitative"}}},
{"data": {"values": [{}]}, "mark": {"type": "rule", "color": "#B22222", "strokeWidth": 2, "strokeDash": [2, 4]}, "encoding": {"y": {"datum": 200, "type": "quantitative"}}}
]
},
{
"width": 316, "height": 198,
"title": {"text": "b) Julho 2016"},
"layer": [
{
"encoding": {"x": {"field": "i", "type": "quantitative", "scale": {"domain": [-3.42, 75.42], "nice": false, "zero": false}, "axis": {"title": "Hora", "tickCount": 200, "values": [0,1,2,3,4,5,6,7,8,9,10,11,12,13,14,15,16,17,18,19,20,21,22,23,24,25,26,27,28,29,30,31,32,33,34,35,36,37,38,39,40,41,42,43,44,45,46,47,48,49,50,51,52,53,54,55,56,57,58,59,60,61,62,63,64,65,66,67,68,69,70,71,72], "labelOverlap": false, "labelExpr": "datum.value % 10 === 0 ? pad(floor(datum.value/6)+6, 2, '0', 'left') + ':' + pad((datum.value%6)*10, 2, '0', 'left') : ''"}}},
"layer": [
{"data": {"name": "box"}, "transform": [{"filter": "datum.p === 'b'"}],
"layer": [
{"mark": {"type": "rule", "strokeDash": [2.5, 2], "strokeWidth": 0.8, "color": "black"}, "encoding": {"y": {"field": "lo", "type": "quantitative", "scale": {"domain": [-7.3, 209.5], "nice": false, "zero": false}, "axis": {"title": "O₃ (μg m⁻³)", "tickCount": 50, "values": [0,40,80,120,160,200], "labelOverlap": false}}, "y2": {"field": "q1"}}},
{"mark": {"type": "rule", "strokeDash": [2.5, 2], "strokeWidth": 0.8, "color": "black"}, "encoding": {"y": {"field": "q3", "type": "quantitative"}, "y2": {"field": "hi"}}},
{"mark": {"type": "tick", "orient": "horizontal", "size": 2.4, "thickness": 0.9, "color": "black"}, "encoding": {"y": {"field": "lo", "type": "quantitative"}}},
{"mark": {"type": "tick", "orient": "horizontal", "size": 2.4, "thickness": 0.9, "color": "black"}, "encoding": {"y": {"field": "hi", "type": "quantitative"}}},
{"mark": {"type": "bar", "orient": "vertical", "size": 3.2, "fill": "#ADD8E6", "stroke": "black", "strokeWidth": 0.55}, "encoding": {"y": {"field": "q1", "type": "quantitative"}, "y2": {"field": "q3"}}},
{"mark": {"type": "tick", "orient": "horizontal", "size": 3.6, "thickness": 3, "color": "black"}, "encoding": {"y": {"field": "md", "type": "quantitative"}}}
]},
{"data": {"name": "out"}, "transform": [{"filter": "datum.p === 'b'"}], "mark": {"type": "point", "shape": "circle", "filled": false, "size": 22, "stroke": "black", "strokeWidth": 0.8}, "encoding": {"y": {"field": "v", "type": "quantitative"}}}
]
},
{"data": {"values": [{}]}, "mark": {"type": "rule", "color": "#FFFF00", "strokeWidth": 2}, "encoding": {"y": {"datum": 80, "type": "quantitative"}}},
{"data": {"values": [{}]}, "mark": {"type": "rule", "color": "#D9912E", "strokeWidth": 2, "strokeDash": [8, 5]}, "encoding": {"y": {"datum": 160, "type": "quantitative"}}},
{"data": {"values": [{}]}, "mark": {"type": "rule", "color": "#B22222", "strokeWidth": 2, "strokeDash": [2, 4]}, "encoding": {"y": {"datum": 200, "type": "quantitative"}}}
]
},
{
"width": 316, "height": 198,
"title": {"text": "c) Agosto 2015"},
"layer": [
{
"encoding": {"x": {"field": "i", "type": "quantitative", "scale": {"domain": [-3.42, 75.42], "nice": false, "zero": false}, "axis": {"title": "Hora", "tickCount": 200, "values": [0,1,2,3,4,5,6,7,8,9,10,11,12,13,14,15,16,17,18,19,20,21,22,23,24,25,26,27,28,29,30,31,32,33,34,35,36,37,38,39,40,41,42,43,44,45,46,47,48,49,50,51,52,53,54,55,56,57,58,59,60,61,62,63,64,65,66,67,68,69,70,71,72], "labelOverlap": false, "labelExpr": "datum.value % 10 === 0 ? pad(floor(datum.value/6)+6, 2, '0', 'left') + ':' + pad((datum.value%6)*10, 2, '0', 'left') : ''"}}},
"layer": [
{"data": {"name": "box"}, "transform": [{"filter": "datum.p === 'c'"}],
"layer": [
{"mark": {"type": "rule", "strokeDash": [2.5, 2], "strokeWidth": 0.8, "color": "black"}, "encoding": {"y": {"field": "lo", "type": "quantitative", "scale": {"domain": [-7.3, 209.5], "nice": false, "zero": false}, "axis": {"title": "O₃ (μg m⁻³)", "tickCount": 50, "values": [0,40,80,120,160,200], "labelOverlap": false}}, "y2": {"field": "q1"}}},
{"mark": {"type": "rule", "strokeDash": [2.5, 2], "strokeWidth": 0.8, "color": "black"}, "encoding": {"y": {"field": "q3", "type": "quantitative"}, "y2": {"field": "hi"}}},
{"mark": {"type": "tick", "orient": "horizontal", "size": 2.4, "thickness": 0.9, "color": "black"}, "encoding": {"y": {"field": "lo", "type": "quantitative"}}},
{"mark": {"type": "tick", "orient": "horizontal", "size": 2.4, "thickness": 0.9, "color": "black"}, "encoding": {"y": {"field": "hi", "type": "quantitative"}}},
{"mark": {"type": "bar", "orient": "vertical", "size": 3.2, "fill": "#ADD8E6", "stroke": "black", "strokeWidth": 0.55}, "encoding": {"y": {"field": "q1", "type": "quantitative"}, "y2": {"field": "q3"}}},
{"mark": {"type": "tick", "orient": "horizontal", "size": 3.6, "thickness": 3, "color": "black"}, "encoding": {"y": {"field": "md", "type": "quantitative"}}}
]},
{"data": {"name": "out"}, "transform": [{"filter": "datum.p === 'c'"}], "mark": {"type": "point", "shape": "circle", "filled": false, "size": 22, "stroke": "black", "strokeWidth": 0.8}, "encoding": {"y": {"field": "v", "type": "quantitative"}}}
]
},
{"data": {"values": [{}]}, "mark": {"type": "rule", "color": "#FFFF00", "strokeWidth": 2}, "encoding": {"y": {"datum": 80, "type": "quantitative"}}},
{"data": {"values": [{}]}, "mark": {"type": "rule", "color": "#D9912E", "strokeWidth": 2, "strokeDash": [8, 5]}, "encoding": {"y": {"datum": 160, "type": "quantitative"}}},
{"data": {"values": [{}]}, "mark": {"type": "rule", "color": "#B22222", "strokeWidth": 2, "strokeDash": [2, 4]}, "encoding": {"y": {"datum": 200, "type": "quantitative"}}}
]
},
{
"width": 316, "height": 198,
"title": {"text": "d) Agosto 2016"},
"layer": [
{
"encoding": {"x": {"field": "i", "type": "quantitative", "scale": {"domain": [-3.42, 75.42], "nice": false, "zero": false}, "axis": {"title": "Hora", "tickCount": 200, "values": [0,1,2,3,4,5,6,7,8,9,10,11,12,13,14,15,16,17,18,19,20,21,22,23,24,25,26,27,28,29,30,31,32,33,34,35,36,37,38,39,40,41,42,43,44,45,46,47,48,49,50,51,52,53,54,55,56,57,58,59,60,61,62,63,64,65,66,67,68,69,70,71,72], "labelOverlap": false, "labelExpr": "datum.value % 10 === 5 ? pad(floor(datum.value/6)+6, 2, '0', 'left') + ':' + pad((datum.value%6)*10, 2, '0', 'left') : ''"}}},
"layer": [
{"data": {"name": "box"}, "transform": [{"filter": "datum.p === 'd'"}],
"layer": [
{"mark": {"type": "rule", "strokeDash": [2.5, 2], "strokeWidth": 0.8, "color": "black"}, "encoding": {"y": {"field": "lo", "type": "quantitative", "scale": {"domain": [-7.3, 209.5], "nice": false, "zero": false}, "axis": {"title": "O₃ (μg m⁻³)", "tickCount": 50, "values": [0,40,80,120,160,200], "labelOverlap": false}}, "y2": {"field": "q1"}}},
{"mark": {"type": "rule", "strokeDash": [2.5, 2], "strokeWidth": 0.8, "color": "black"}, "encoding": {"y": {"field": "q3", "type": "quantitative"}, "y2": {"field": "hi"}}},
{"mark": {"type": "tick", "orient": "horizontal", "size": 2.4, "thickness": 0.9, "color": "black"}, "encoding": {"y": {"field": "lo", "type": "quantitative"}}},
{"mark": {"type": "tick", "orient": "horizontal", "size": 2.4, "thickness": 0.9, "color": "black"}, "encoding": {"y": {"field": "hi", "type": "quantitative"}}},
{"mark": {"type": "bar", "orient": "vertical", "size": 3.2, "fill": "#ADD8E6", "stroke": "black", "strokeWidth": 0.55}, "encoding": {"y": {"field": "q1", "type": "quantitative"}, "y2": {"field": "q3"}}},
{"mark": {"type": "tick", "orient": "horizontal", "size": 3.6, "thickness": 3, "color": "black"}, "encoding": {"y": {"field": "md", "type": "quantitative"}}}
]},
{"data": {"name": "out"}, "transform": [{"filter": "datum.p === 'd'"}], "mark": {"type": "point", "shape": "circle", "filled": false, "size": 22, "stroke": "black", "strokeWidth": 0.8}, "encoding": {"y": {"field": "v", "type": "quantitative"}}}
]
},
{"data": {"values": [{}]}, "mark": {"type": "rule", "color": "#FFFF00", "strokeWidth": 2}, "encoding": {"y": {"datum": 80, "type": "quantitative"}}},
{"data": {"values": [{}]}, "mark": {"type": "rule", "color": "#D9912E", "strokeWidth": 2, "strokeDash": [8, 5]}, "encoding": {"y": {"datum": 160, "type": "quantitative"}}},
{"data": {"values": [{}]}, "mark": {"type": "rule", "color": "#B22222", "strokeWidth": 2, "strokeDash": [2, 4]}, "encoding": {"y": {"datum": 200, "type": "quantitative"}}}
]
}
],
"config": {
"font": "Liberation Serif",
"view": {"stroke": "black", "strokeWidth": 1},
"title": {"font": "Liberation Serif", "fontSize": 14, "fontWeight": "bold", "color": "black", "offset": 6},
"axis": {"labelFont": "Liberation Serif", "labelFontSize": 12, "labelColor": "black", "tickColor": "black", "tickWidth": 1, "domain": false, "grid": false, "titleFont": "Liberation Serif", "titleFontSize": 17, "titleFontWeight": "normal", "titleColor": "black", "labelOverlap": false, "labelFlush": false, "labelBound": false},
"axisX": {"labelAngle": 0, "tickSize": 7, "labelPadding": 9, "titlePadding": 13},
"axisY": {"tickSize": 8, "labelPadding": 6, "titlePadding": 12, "labelOverlap": false}
}
}
